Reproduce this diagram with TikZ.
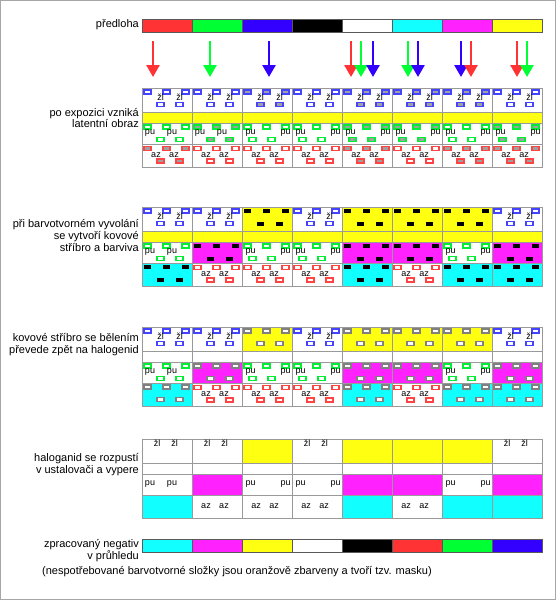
\documentclass[tikz,border=0pt]{standalone}
\usepackage{fontspec}
\setmainfont{Liberation Sans}
\usetikzlibrary{arrows.meta}

\definecolor{fred}{RGB}{255,51,51}
\definecolor{fgreen}{RGB}{0,255,51}
\definecolor{fblue}{RGB}{51,0,255}
\definecolor{fcyan}{RGB}{17,255,255}
\definecolor{fmagenta}{RGB}{255,34,255}
\definecolor{fyellow}{RGB}{255,255,17}
\definecolor{gblue}{RGB}{68,68,255}
\definecolor{ggreen}{RGB}{0,238,51}
\definecolor{gred}{RGB}{255,68,68}
\definecolor{latent}{RGB}{160,160,160}

% grain and tag places inside one layer cell
\def\zlgrains{2/2,21/2,40/2,15/14.5,34/14.5}
\def\pugrainsA{2/2,21/2,40/2,15/14.5,34/14.5}
\def\pugrainsB{2/2,21/2,40/2,7/14.5,26/14.5}
\def\azgrains{2/2.5,21/2.5,40/2.5,15/15,34/15}
\def\zltags{18.5/9,37.5/9}
\def\zltagsfix{15/4.5,32.5/4.5}
\def\putagsA{8/10,30/10}
\def\putagsB{8.7/10,43.7/10}
\def\aztags{14/11,32/11}

\newcounter{tagno}
\newcommand{\filmtags}[4]{%
  \foreach \tx/\ty in #4 {%
    \stepcounter{tagno}%
    \node[tag] (tag\arabic{tagno}) at (#1+\tx,#2+\ty) {#3};
  }%
}

% #1 mode, #2 x, #3 y, #4 height, #5 dye, #6 grain colour, #7 tag, #8 tag places, #9 grain places
\newcommand{\filmlayer}[9]{%
  \ifcase#1
    \draw[cell, fill=white] (#2,#3) rectangle ++(50,#4);
    \foreach \gx/\gy in #9 \draw[grain, draw=#6, fill=white] (#2+\gx,#3+\gy) rectangle ++(7,4);
    \filmtags{#2}{#3}{#7}{#8}
  \or
    \draw[cell, fill=white] (#2,#3) rectangle ++(50,#4);
    \foreach \gx/\gy in #9 \draw[grain, draw=#6, fill=latent] (#2+\gx,#3+\gy) rectangle ++(7,4);
    \filmtags{#2}{#3}{#7}{#8}
  \or
    \draw[cell, fill=#5] (#2,#3) rectangle ++(50,#4);
    \foreach \gx/\gy in \zlgrains \fill[black] (#2+\gx,#3+\gy) rectangle ++(7,4);
  \or
    \draw[cell, fill=#5] (#2,#3) rectangle ++(50,#4);
    \foreach \gx/\gy in \zlgrains \draw[grain, draw=gray, fill=white] (#2+\gx,#3+\gy) rectangle ++(7,4);
  \or
    \draw[cell, fill=white] (#2,#3) rectangle ++(50,#4);
    \filmtags{#2}{#3}{#7}{#8}
  \or
    \draw[cell, fill=#5] (#2,#3) rectangle ++(50,#4);
  \fi
}

\begin{document}
\begin{tikzpicture}[x=1pt, y=-1pt, >={Triangle[length=12pt,width=13pt]},
    lbl/.style={font=\fontsize{11}{12}\selectfont, align=right, anchor=east, inner sep=0pt},
    tag/.style={font=\fontsize{9}{9}\selectfont, inner sep=0pt},
    cell/.style={draw=gray!80, line width=0.8pt},
    grain/.style={line width=1.1pt},
    bar/.style={draw=gray!70!black, line width=0.6pt}]
  \useasboundingbox (0,0) rectangle (556,600);
  \draw[gray!70, line width=1pt] (0.5,0.5) rectangle (555.5,599.5);

  % original and light
  \node[lbl] (orig) at (139,25) {předloha};
  \foreach \col [count=\i] in {fred,fgreen,fblue,black,white,fcyan,fmagenta,fyellow}
    \draw[bar, fill=\col] (92+50*\i,19) rectangle ++(50,13);
  \foreach \ax/\ac [count=\n] in {153/fred,210/fgreen,269/fblue,351/fred,361/fgreen,373/fblue,
      408/fgreen,418/fblue,461/fblue,471/fred,517/fred,527/fgreen} {
    \coordinate (s\n) at (\ax,41);
    \coordinate (e\n) at (\ax,77);
    \draw[->, line width=2.6pt, \ac] (s\n) -- (e\n);
  }

  % film: four stages
  \node[lbl] (expo) at (139,118) {po expozici vzniká\\latentní obraz};
  \node[lbl] (devel) at (139,235) {při barvotvorném vyvolání\\se vytvoří kovové\\stříbro a barviva};
  \node[lbl] (bleach) at (139,345) {kovové stříbro se bělením\\převede zpět na halogenid};
  \node[lbl] (fix) at (139,465) {haloganid se rozpustí\\v ustalovači a vypere};
  \foreach \b/\yo in {1/88,2/207,3/327,4/439} {
    \foreach \c/\ezl/\epu/\eaz in {1/0/0/1,2/0/1/0,3/1/0/0,4/0/0/0,5/1/1/1,6/1/1/0,7/1/0/1,8/0/1/1} {
      \pgfmathsetmacro{\xo}{92+50*\c}
      \pgfmathtruncatemacro{\mzl}{\ezl==0 ? (\b==4 ? 4 : 0) : (\b==4 ? 5 : \b)}
      \pgfmathtruncatemacro{\mpu}{\epu==0 ? (\b==4 ? 4 : 0) : (\b==4 ? 5 : \b)}
      \pgfmathtruncatemacro{\maz}{\eaz==0 ? (\b==4 ? 4 : 0) : (\b==4 ? 5 : \b)}
      \ifnum\b=4 \let\zlt\zltagsfix \else \let\zlt\zltags \fi
      \ifnum\c<3 \let\put\putagsA \let\pug\pugrainsA \else \let\put\putagsB \let\pug\pugrainsB \fi
      \filmlayer{\mzl}{\xo}{\yo}{24}{fyellow}{gblue}{žl}{\zlt}{\zlgrains}
      \ifnum\b<3
        \draw[cell, fill=fyellow] (\xo,\yo+24) rectangle ++(50,11);
      \else
        \draw[cell, fill=white] (\xo,\yo+24) rectangle ++(50,11);
      \fi
      \filmlayer{\mpu}{\xo}{\yo+35}{21}{fmagenta}{ggreen}{pu}{\put}{\pug}
      \filmlayer{\maz}{\xo}{\yo+56}{23}{fcyan}{gred}{az}{\aztags}{\azgrains}
    }
  }

  % negative
  \foreach \col [count=\i] in {fcyan,fmagenta,fyellow,white,black,fred,fgreen,fblue}
    \draw[bar, fill=\col] (92+50*\i,539) rectangle ++(50,13);
  \node[lbl] (neg) at (139,551) {zpracovaný negativ\\v průhledu};
  \node[font=\fontsize{11}{12}\selectfont, inner sep=0pt] (mask) at (237,572)
    {(nespotřebované barvotvorné složky jsou oranžově zbarveny a tvoří tzv. masku)};
\end{tikzpicture}
\end{document}
